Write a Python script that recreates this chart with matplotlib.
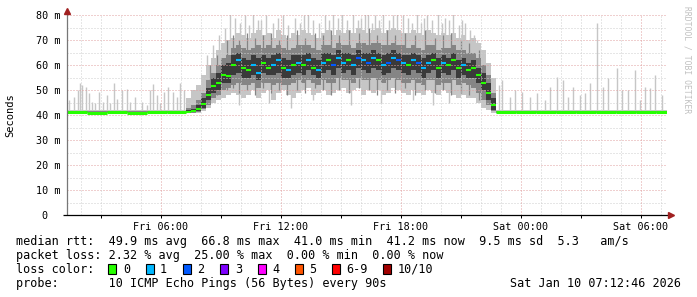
#!/usr/bin/env python3
"""
SmokePing latency graph (RRDtool look) redrawn with matplotlib.

Smoke bands = spread of the 10 pings per step, coloured dashes = median
rtt coloured by the number of lost pings.
"""

import numpy as np
import matplotlib
matplotlib.use("Agg")
import matplotlib.pyplot as plt
from matplotlib.patches import Rectangle
from matplotlib.transforms import ScaledTranslation

OUTPUT_PATH = "out.png"
W, H = 697, 297

# Time axis, hours since Fri 00:00
T_START = 1.3
T_END = 31.3
X_TICKS = [6, 12, 18, 24, 30]
X_TICK_LABELS = ["Fri 06:00", "Fri 12:00", "Fri 18:00", "Sat 00:00", "Sat 06:00"]
Y_TICKS = [0, 10, 20, 30, 40, 50, 60, 70, 80]
Y_TICK_LABELS = ["0", "10 m", "20 m", "30 m", "40 m", "50 m", "60 m", "70 m", "80 m"]

# Quiet night periods, hourly columns (ms)
NIGHT1_EDGES = [1.3, 2.3, 3.3, 4.3, 5.3, 6.3, 7.25]
NIGHT1_MED = [41.1, 41.0, 41.1, 41.0, 41.1, 41.2]
NIGHT2_EDGES = [22.75, 23.75, 24.75, 25.75, 26.75, 27.75, 28.75, 29.75, 30.75, 31.3]
NIGHT2_MED = [41.3, 41.2, 41.2, 41.1, 41.1, 41.2, 41.2, 41.1, 41.2]
NIGHT_SMOKE = (40.8, 41.9)
NIGHT_MID = (41.0, 41.5)

# Busy day period, 15 minute columns starting 07:15
DAY_START = 7.25
DAY_STEP = 0.25
DAY_MED = [41.3, 41.8, 42.5, 44.5, 48, 51.5, 53, 56, 55.5, 60,
           62, 59, 58, 60, 57, 61, 59, 60, 62, 59,
           58, 60, 61, 60, 62, 59, 58, 61, 62, 60,
           63, 61, 62, 60, 63, 62, 61, 63, 62, 60,
           61, 63, 62, 61, 60, 62, 61, 59, 61, 62,
           59, 61, 60, 62, 59, 60, 58, 59, 56, 53,
           49, 44]
DAY_LOSS = [0, 0, 0, 0, 0, 0, 0, 0, 0, 0,
            1, 0, 0, 1, 1, 0, 0, 1, 1, 0,
            1, 0, 1, 0, 1, 0, 1, 1, 0, 2,
            1, 1, 0, 1, 2, 1, 2, 1, 0, 1,
            2, 1, 2, 1, 0, 1, 2, 1, 1, 0,
            0, 1, 0, 0, 0, 1, 0, 0, 0, 0,
            0, 0]
DAY_SMOKE_LO = [40.8, 40.9, 41, 41.5, 43, 45, 46, 47, 48, 49,
                48, 47, 48, 50, 47, 49, 50, 46, 49, 50,
                48, 47, 49, 50, 51, 48, 49, 50, 48, 49,
                50, 51, 49, 50, 51, 48, 50, 49, 50, 48,
                49, 51, 50, 49, 48, 50, 49, 48, 50, 49,
                48, 50, 49, 48, 47, 48, 47, 47, 45, 43,
                42, 41]
DAY_SMOKE_HI = [47, 50, 52, 56, 60, 63, 66, 69, 70, 71,
                73, 72, 71, 73, 74, 72, 73, 71, 74, 72,
                71, 73, 72, 74, 73, 72, 71, 73, 74, 72,
                74, 73, 74, 73, 75, 74, 73, 74, 75, 73,
                74, 75, 74, 73, 73, 74, 73, 72, 74, 73,
                72, 73, 72, 73, 71, 72, 70, 71, 69, 66,
                61, 55]
DAY_MID_LO = [41, 41, 41.3, 42.5, 44, 47, 48, 50, 51, 52,
              53, 52, 52, 53, 51, 53, 53, 52, 53, 52,
              52, 53, 54, 53, 54, 53, 52, 54, 53, 53,
              55, 54, 54, 53, 55, 54, 54, 55, 54, 53,
              54, 55, 54, 53, 53, 54, 53, 52, 54, 54,
              52, 53, 53, 54, 52, 53, 52, 51, 49, 46,
              44, 41.5]
DAY_MID_HI = [43, 44, 46, 49, 54, 57, 60, 63, 64, 67,
              68, 67, 66, 67, 68, 67, 68, 67, 68, 67,
              66, 67, 68, 68, 68, 67, 66, 68, 68, 67,
              69, 68, 68, 67, 69, 69, 68, 69, 69, 68,
              68, 69, 68, 68, 67, 68, 67, 66, 68, 68,
              66, 67, 67, 68, 66, 66, 65, 65, 63, 60,
              56, 49]
DAY_CORE_LO = [41, 41.2, 41.8, 43, 46, 49, 50, 53, 53, 56,
               57, 55, 55, 56, 54, 57, 56, 56, 57, 55,
               55, 56, 57, 56, 58, 56, 55, 57, 58, 56,
               59, 57, 58, 56, 59, 58, 57, 59, 58, 56,
               57, 59, 58, 57, 56, 58, 57, 55, 57, 58,
               55, 57, 56, 58, 55, 56, 55, 55, 53, 50,
               46, 42]
DAY_CORE_HI = [42, 42.5, 44, 47, 51, 55, 57, 60, 61, 64,
               65, 63, 62, 64, 63, 64, 63, 64, 65, 63,
               62, 64, 64, 64, 65, 63, 62, 65, 65, 64,
               66, 65, 65, 64, 66, 65, 65, 66, 65, 64,
               65, 66, 65, 64, 64, 65, 64, 63, 64, 65,
               63, 64, 63, 65, 62, 63, 61, 62, 59, 57,
               53, 47]

# Single ping spikes at night (time, top in ms)
NIGHT_SPIKE_T = [1.42, 1.65, 1.87, 1.95, 2.03, 2.25, 2.42, 2.53, 2.7, 2.92,
                 3.12, 3.28, 3.45, 3.65, 3.78, 4.03, 4.28, 4.45, 4.7, 5.03,
                 5.32, 5.45, 5.62, 5.78, 5.95, 6.15, 6.37, 6.62, 6.82, 6.95,
                 7.15,
                 22.9, 23.03, 23.45, 23.7, 24.03, 24.45, 24.78, 25.2, 25.45, 25.78,
                 26.12, 26.37, 26.62, 26.95, 27.2, 27.45, 27.82, 28.12, 28.37, 28.78,
                 29.03, 29.37, 29.7, 29.95, 30.2, 30.45, 30.7, 31.03]
NIGHT_SPIKE_TOP = [46, 47.3, 50, 52.8, 52, 51.3, 48.7, 45.3, 44.7, 49.3,
                   45.3, 48, 44.7, 53, 46.3, 50, 50.3, 45.3, 47.3, 45.3,
                   44, 50, 52.4, 48, 44.7, 49.3, 51.3, 49.3, 47.3, 52.7,
                   50,
                   52, 54, 47.3, 50, 49.3, 47.3, 48.7, 46, 51.3, 55.3,
                   54, 47.3, 51.3, 48, 48.7, 52.7, 76.7, 51.3, 54.7, 58.7,
                   50, 50, 58, 46, 51.3, 50.7, 56, 48]

# Light grey day spikes above the smoke (time, top in ms)
DAY_SPIKE_T = [8.3, 8.6, 8.9, 9.2, 9.45, 9.7, 9.95, 10.2, 10.4, 10.6,
               10.85, 11.0, 11.25, 11.6, 11.85, 12.1, 12.35, 12.7, 12.95, 13.15,
               13.35, 13.6, 13.9, 14.2, 14.4, 14.6, 14.85, 15.05, 15.3, 15.6,
               15.85, 16.0, 16.2, 16.35, 16.55, 16.7, 16.9, 17.1, 17.4, 17.6,
               17.8, 18.1, 18.35, 18.55, 18.8, 19.0, 19.15, 19.3, 19.55, 19.85,
               20.05, 20.2, 20.4, 20.6, 20.9, 21.05, 21.2, 21.45, 21.65, 21.8,
               22.05]
DAY_SPIKE_TOP = [64, 68, 72, 75, 82, 79, 77, 80, 76, 82,
                 78, 78, 80, 77, 79, 80, 76, 79, 77, 80,
                 82, 78, 77, 80, 78, 82, 79, 82, 78, 82,
                 78, 79, 81, 82, 77, 80, 78, 82, 78, 80,
                 82, 80, 79, 77, 82, 77, 79, 80, 78, 82,
                 77, 79, 78, 82, 76, 78, 77, 74, 72, 70,
                 64]
DAY_DIP_T = [9.9, 11.4, 12.5, 13.6, 15.5, 17.0, 18.6, 19.6, 20.4]
DAY_DIP_BOTTOM = [44, 45, 43, 46, 44, 45, 46, 44, 45]

# Darker grey streaks through the smoke (time, low, high in ms)
DAY_STREAK_T = [8.45, 8.8, 9.3, 9.6, 9.9, 10.3, 10.7, 11.1, 11.5, 11.9,
                12.3, 12.8, 13.2, 13.7, 14.1, 14.5, 14.9, 15.4, 15.9, 16.4,
                16.8, 17.3, 17.7, 18.2, 18.7, 19.2, 19.7, 20.1, 20.5, 21.0,
                21.4, 21.9]
DAY_STREAK_LO = [46, 48, 50, 51, 49, 50, 48, 51, 49, 50,
                 48, 50, 49, 51, 50, 48, 50, 49, 51, 50,
                 48, 50, 49, 51, 48, 50, 49, 50, 48, 49,
                 48, 46]
DAY_STREAK_HI = [60, 64, 70, 72, 70, 73, 71, 72, 73, 70,
                 72, 74, 71, 73, 72, 74, 72, 74, 73, 75,
                 72, 74, 72, 73, 72, 74, 71, 72, 73, 70,
                 69, 66]

LOSS_COLORS = ["#26ff00", "#00b8ff", "#0059ff", "#7e00ff",
               "#ff00ff", "#ff5500", "#ff0000", "#a10000"]
LOSS_LABELS = ["0", "1", "2", "3", "4", "5", "6-9", "10/10"]

SMOKE_LIGHT = "#c6c6c6"
SMOKE_MID = "#858585"
SMOKE_DARK = "#3a3a3a"
FONT = "DejaVu Sans Mono"


def fx(px):
    return px / W


def fy(py):
    return 1 - py / H


def draw_smoke(ax, edges, lo3, hi3, lo2, hi2, lo1, hi1):
    """Three nested grey bands as stairs."""
    ax.stairs(hi3, edges, baseline=lo3, fill=True, color=SMOKE_LIGHT, lw=0, zorder=1)
    ax.stairs(hi2, edges, baseline=lo2, fill=True, color=SMOKE_MID, lw=0, zorder=1.1)
    if lo1 is not None:
        ax.stairs(hi1, edges, baseline=lo1, fill=True, color=SMOKE_DARK, lw=0, zorder=1.2)


def main():
    plt.rcParams['font.family'] = FONT
    fig = plt.figure(figsize=(W / 100, H / 100), dpi=100)
    fig.patch.set_facecolor("white")
    ax = fig.add_axes([fx(67), fy(215), 600 / W, 200 / H])
    ax.set_xlim(T_START, T_END)
    ax.set_ylim(0, 80)
    for s in ax.spines.values():
        s.set_visible(False)

    # Night periods
    for edges, med in ((NIGHT1_EDGES, NIGHT1_MED), (NIGHT2_EDGES, NIGHT2_MED)):
        n = len(med)
        draw_smoke(ax, edges, [NIGHT_SMOKE[0]] * n, [NIGHT_SMOKE[1]] * n,
                   [NIGHT_MID[0]] * n, [NIGHT_MID[1]] * n, None, None)
        ax.hlines(med, edges[:-1], edges[1:], colors=LOSS_COLORS[0], lw=2.2, zorder=4)

    ax.vlines(NIGHT_SPIKE_T, 41.5, NIGHT_SPIKE_TOP, colors=SMOKE_LIGHT, lw=1.0, zorder=0.9)

    # Day period
    day_edges = DAY_START + DAY_STEP * np.arange(len(DAY_MED) + 1)
    ax.vlines(DAY_SPIKE_T, 55, DAY_SPIKE_TOP, colors=SMOKE_LIGHT, lw=1.0, zorder=0.9)
    ax.vlines(DAY_DIP_T, DAY_DIP_BOTTOM, 55, colors=SMOKE_LIGHT, lw=1.0, zorder=0.9)
    draw_smoke(ax, day_edges, DAY_SMOKE_LO, DAY_SMOKE_HI, DAY_MID_LO, DAY_MID_HI,
               DAY_CORE_LO, DAY_CORE_HI)
    ax.vlines(DAY_STREAK_T, DAY_STREAK_LO, DAY_STREAK_HI, colors=SMOKE_MID,
              lw=0.9, zorder=1.15)
    ax.hlines(DAY_MED, day_edges[:-1], day_edges[1:],
              colors=[LOSS_COLORS[l] for l in DAY_LOSS], lw=1.5, zorder=4)

    # Grid on top of the smoke, dotted like rrdtool
    dots = (0, (1, 2))
    for v in range(5, 80, 10):
        ax.axhline(v, color="#cfcfcf", lw=0.72, ls=dots, zorder=2)
    for v in range(10, 81, 10):
        ax.axhline(v, color="#e0a0a0", lw=0.72, ls=dots, zorder=2)
    for h in range(2, 32):
        col = "#e0a0a0" if h % 6 == 0 else "#cfcfcf"
        ax.axvline(h, color=col, lw=0.72, ls=dots, zorder=2)

    # Axis lines and arrows
    ax.plot([T_START, T_START], [0, 81.2], color="#777777", lw=0.9,
            clip_on=False, zorder=5, solid_capstyle="butt")
    ax.plot([T_START - 0.2, 31.45], [0, 0], color="black", lw=0.9,
            clip_on=False, zorder=5, solid_capstyle="butt")
    ax.plot([T_START], [81.8], marker="^", ms=4.2, color="#a02020",
            clip_on=False, zorder=6)
    ax.plot([31.5], [0], marker=">", ms=4.2, color="#a02020",
            clip_on=False, zorder=6)

    # Ticks
    ax.set_xticks(X_TICKS, X_TICK_LABELS)
    ax.set_xticks(range(3, 31, 6), minor=True)
    ax.tick_params(axis="x", which="both", length=2, width=0.72, color="black",
                   pad=3, labelsize=7.3)
    ax.set_yticks(Y_TICKS, Y_TICK_LABELS)
    ax.tick_params(axis="y", length=0, pad=5, labelsize=7.3)
    zero = ax.get_yticklabels()[0]
    zero.set_transform(zero.get_transform() +
                       ScaledTranslation(-13 / 100, 0, fig.dpi_scale_trans))

    fig.text(fx(10), fy(115), "Seconds", rotation=90, ha="center", va="center",
             fontsize=7.5)
    fig.text(fx(687), fy(60), "RRDTOOL / TOBI OETIKER", rotation=270,
             ha="center", va="center", fontsize=5.8, color="#c0c0c0")

    # Legend block, monospace columns
    fs = 8.5
    x0 = 16.4
    rows = [
        (241, "median rtt:  49.9 ms avg  66.8 ms max  41.0 ms min  41.2 ms now  9.5 ms sd  5.3   am/s"),
        (255.3, "packet loss: 2.32 % avg  25.00 % max  0.00 % min  0.00 % now"),
        (269.3, "loss color:"),
        (283.5, "probe:       10 ICMP Echo Pings (56 Bytes) every 90s"),
    ]
    for y, s in rows:
        fig.text(fx(x0), fy(y), s, ha="left", va="center", fontsize=fs)
    fig.text(fx(681), fy(283.5), "Sat Jan 10 07:12:46 2026", ha="right",
             va="center", fontsize=fs)

    box_x = [108.3, 145.6, 182.9, 220.2, 257.5, 294.8, 332.1, 383.0]
    for bx, col, lab in zip(box_x, LOSS_COLORS, LOSS_LABELS):
        fig.add_artist(Rectangle((fx(bx), fy(274)), 8 / W, 10 / H,
                                 transform=fig.transFigure, facecolor=col,
                                 edgecolor="black", lw=0.8))
        fig.text(fx(bx + 14.5), fy(269.3), lab, ha="left", va="center", fontsize=fs)

    fig.savefig(OUTPUT_PATH, dpi=100)


if __name__ == '__main__':
    main()
